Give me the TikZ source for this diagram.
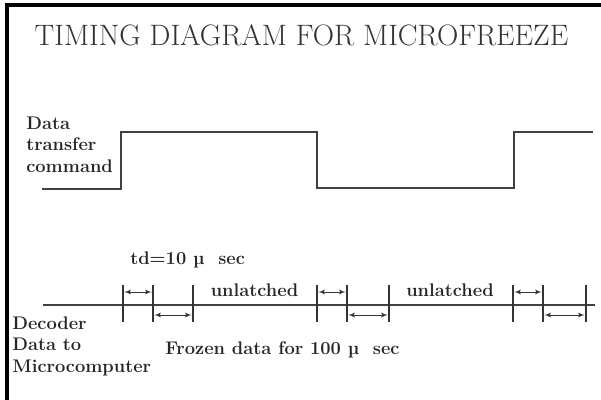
\documentclass[tikz,border=0pt]{standalone}
\usepackage{tikz}
\usetikzlibrary{arrows}
\tikzset{wave/.style = {draw=black!75, line width=1.4pt, line join=miter}}
\tikzset{tickline/.style = {draw=black!80, line width=1.3pt}}
\tikzset{gap/.style = {<->, >=latex', draw=black!80, line width=0.6pt, shorten <=1pt, shorten >=1pt}}
\tikzset{txt/.style = {inner sep=0, text=black!85, font=\fontsize{13}{15.2}\selectfont\bfseries}}

\begin{document}
\begin{tikzpicture}[x=0.025cm, y=-0.025cm]
      \useasboundingbox (0, 0) rectangle (601, 400);
      \draw [line width=2.2pt] (7, 400) -- (7, 5) -- (601, 5);
      \node [anchor=base, inner sep=0, text=black!80, font=\fontsize{21}{25}\selectfont] (title) at (301.5, 46) {TIMING DIAGRAM FOR MICROFREEZE};
      % data transfer command
      \node [txt, anchor=north west, align=left] (cmd) at (26, 116.5) {Data\\transfer\\command};
      \draw [wave] (42, 189) -- (121, 189) -- (121, 132) -- (317, 132) -- (317, 188) -- (514, 188) -- (514, 132) -- (593, 132);
      % decoder data
      \node [txt, anchor=north west, align=left] (dec) at (12, 316.5) {Decoder\\Data to\\Microcomputer};
      \draw [wave] (43, 305) -- (595, 305);
      \foreach \a/\b/\c in {123/153/193, 317/347/389, 513/543/586} {
        \draw [tickline] (\a, 285) -- (\a, 322);
        \draw [tickline] (\b, 285) -- (\b, 322);
        \draw [tickline] (\c, 285) -- (\c, 322);
        \draw [gap] (\a, 292) -- (\b, 292);
        \draw [gap] (\b, 315) -- (\c, 315);
      }
      \node [txt, anchor=base west] (td) at (130, 265) {td=10 µ\ \ sec};
      \node [txt, anchor=base] (unl1) at (254.5, 297) {unlatched};
      \node [txt, anchor=base] (unl2) at (450, 297) {unlatched};
      \node [txt, anchor=base west] (frozen) at (165, 355) {Frozen data for 100 µ\ \ sec};
    \end{tikzpicture}
\end{document}
